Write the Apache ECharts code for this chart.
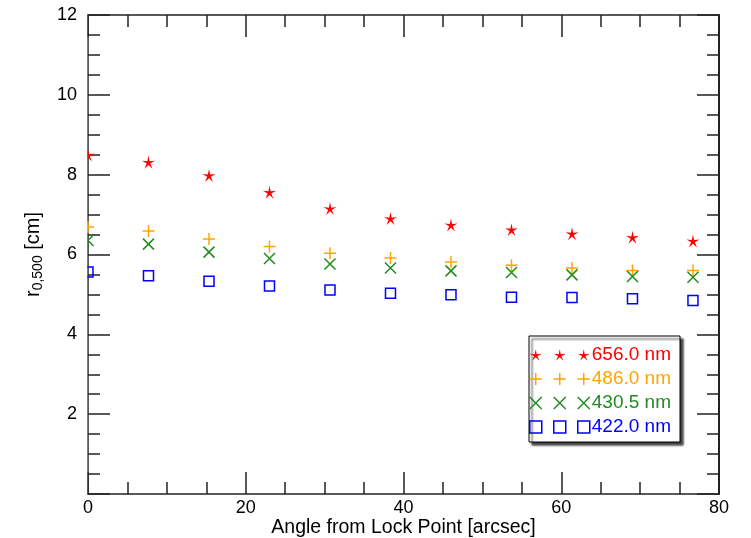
<!DOCTYPE html>
<html>
<head>
<meta charset="utf-8">
<script src="https://cdn.jsdelivr.net/npm/echarts@6/dist/echarts.min.js"></script>
<style>
  html, body { margin: 0; padding: 0; background: #fff; }
  #chart { width: 751px; height: 538px; }
</style>
</head>
<body>
<div id="chart"></div>
<script>
// angle from lock point [arcsec]
const angles = [0, 7.67, 15.34, 23.01, 30.68, 38.35, 46.02, 53.69, 61.36, 69.03, 76.7];
// r0,500 [cm] per wavelength
const r656 = [8.49, 8.31, 7.98, 7.56, 7.15, 6.90, 6.74, 6.62, 6.52, 6.43, 6.34];
const r486 = [6.69, 6.59, 6.39, 6.20, 6.03, 5.91, 5.81, 5.73, 5.66, 5.60, 5.60];
const r430 = [6.35, 6.26, 6.06, 5.90, 5.76, 5.66, 5.59, 5.55, 5.49, 5.45, 5.43];
const r422 = [5.56, 5.47, 5.33, 5.21, 5.11, 5.03, 4.99, 4.93, 4.92, 4.89, 4.85];
const names = ['656.0 nm', '486.0 nm', '430.5 nm', '422.0 nm'];
const colors = ['#ff0000', '#ffa500', '#228b22', '#0000ff'];

const font = 'Liberation Sans';

// skinny five point star
function starPath() {
    let d = '';
    for (let i = 0; i < 10; i++) {
        const r = i % 2 === 0 ? 10 : 2.8;
        const a = -Math.PI / 2 + i * Math.PI / 5;
        d += (i === 0 ? 'M' : 'L') + (r * Math.cos(a)).toFixed(2) + ' ' + (r * Math.sin(a)).toFixed(2) + ' ';
    }
    return 'path://' + d + 'Z';
}
const symbols = [
    starPath(),
    'path://M5 0 L5 10 M0 5 L10 5',
    'path://M0 0 L10 10 M10 0 L0 10',
    'rect'
];
const sizes = [13, 12, 11, 10];
const fills = [colors[0], 'rgba(0,0,0,0)', 'rgba(0,0,0,0)', 'rgba(0,0,0,0)'];
const borders = [0, 1.5, 1.5, 1.5];

const chart = echarts.init(document.getElementById('chart'));

const seriesData = [r656, r486, r430, r422];

function makeLegend(left, withText) {
    return {
        orient: 'vertical',
        left: left,
        top: 343,
        padding: 0,
        itemGap: 0,
        itemWidth: 12,
        itemHeight: 12,
        z: 5,
        selectedMode: false,
        formatter: withText ? (n => n) : (() => ' '),
        textStyle: { fontFamily: font, fontSize: 19, lineHeight: 24, padding: withText ? [0, 0, 0, -3] : 0 },
        data: names.map((n, i) => ({
            name: n,
            icon: symbols[i],
            itemStyle: { color: fills[i], borderColor: colors[i], borderWidth: borders[i] },
            textStyle: { color: colors[i] }
        }))
    };
}

const axisLineStyle = { color: '#222', width: 1.5 };

function frameAxis(extra) {
    return Object.assign({
        type: 'value',
        axisLine: { show: true, onZero: false, lineStyle: axisLineStyle },
        axisTick: { show: true, inside: true, length: 22, lineStyle: axisLineStyle },
        minorTick: { show: true, splitNumber: 4, length: 12, lineStyle: axisLineStyle },
        splitLine: { show: false }
    }, extra);
}

chart.setOption({
    backgroundColor: '#fff',
    animation: false,
    grid: { left: 88, right: 32, top: 15, bottom: 44, outerBoundsMode: 'none' },
    xAxis: [
        frameAxis({
            min: 0, max: 80, interval: 20, position: 'bottom',
            name: 'Angle from Lock Point [arcsec]',
            nameLocation: 'middle', nameGap: 24, nameMoveOverlap: false,
            nameTextStyle: { fontFamily: font, fontSize: 19.5, color: '#000' },
            axisLabel: { fontFamily: font, fontSize: 18, color: '#000', margin: 5 }
        }),
        frameAxis({
            min: 0, max: 80, interval: 20, position: 'top',
            axisLabel: { show: false }
        })
    ],
    yAxis: [
        frameAxis({
            min: 0, max: 12, interval: 2, position: 'left',
            name: '{a|r}{b|0,500}{a| [cm]}',
            nameLocation: 'middle', nameGap: 43, nameRotate: 90, nameMoveOverlap: false,
            nameTextStyle: {
                color: '#000',
                rich: {
                    a: { fontFamily: font, fontSize: 20, color: '#000', verticalAlign: 'top' },
                    b: { fontFamily: font, fontSize: 14, color: '#000', verticalAlign: 'top', padding: [8, 0, 0, 0] }
                }
            },
            axisLabel: {
                fontFamily: font, fontSize: 18, color: '#000', margin: 11,
                formatter: v => (v === 0 ? '' : String(v))
            }
        }),
        frameAxis({
            min: 0, max: 12, interval: 2, position: 'right',
            axisLine: { show: true, onZero: false, lineStyle: { color: '#222', width: 2 } },
            axisLabel: { show: false }
        })
    ],
    legend: [makeLegend(529, false), makeLegend(553, false), makeLegend(577, true)],
    graphic: [
        {
            // hides the part of the x = 0 symbols that falls left of the frame
            type: 'rect', z: 10,
            shape: { x: 79, y: 15, width: 8.2, height: 479 },
            style: { fill: '#fff' }
        },
        {
            type: 'rect', z: 1,
            shape: { x: 529, y: 336, width: 151, height: 106 },
            style: {
                fill: '#fff', stroke: '#000', lineWidth: 1,
                shadowColor: 'rgba(0,0,0,0.75)', shadowOffsetX: 3, shadowOffsetY: 3, shadowBlur: 2
            }
        }
    ],
    series: names.map((n, i) => ({
        name: n,
        type: 'scatter',
        symbol: symbols[i],
        symbolSize: sizes[i],
        itemStyle: { color: fills[i], borderColor: colors[i], borderWidth: borders[i], opacity: 1 },
        data: angles.map((a, j) => [a, seriesData[i][j]])
    }))
});
</script>
</body>
</html>
